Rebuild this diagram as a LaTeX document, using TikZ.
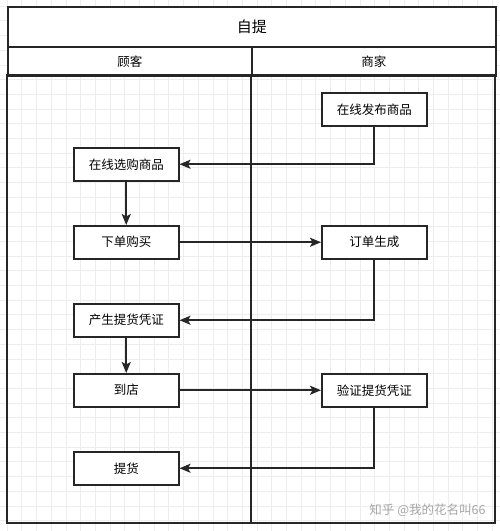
\documentclass[tikz,border=0pt]{standalone}
\usepackage{fontspec}
\setmainfont{Noto Sans CJK SC}
\usepackage{tikz}
\usetikzlibrary{arrows.meta, positioning}

\begin{document}
\begin{tikzpicture}[
  x=1pt, y=-1pt,
  font=\fontsize{12.5}{14}\selectfont,
  gridline/.style={
    draw=black!7,
    line width=0.6pt
  },
  lane/.style={
    draw=black!85,
    line width=1.8pt
  },
  stepbox/.style={
    draw=black!85,
    fill=white,
    line width=1.5pt,
    minimum width=105pt,
    minimum height=33pt,
    inner sep=0pt,
    anchor=north west
  },
  arrow/.style={
    draw=black!85,
    line width=1.8pt,
    -{Stealth[length=11pt, width=9pt, inset=2.5pt]}
  }
]

% Background grid
\useasboundingbox (0,0) rectangle (500,531);
\fill[white] (0,0) rectangle (500,531);
\foreach \gx in {0,...,34} {
  \draw[gridline] (7+14.7*\gx,0) -- (7+14.7*\gx,531);
}
\foreach \gy in {0,...,36} {
  \draw[gridline] (0,6+14.7*\gy) -- (500,6+14.7*\gy);
}

% Pool frame and lanes
\node[lane, fill=white, minimum width=488pt, minimum height=40pt, inner sep=0pt,
  anchor=north west, font=\fontsize{15}{17}\selectfont] (title) at (7,6) {自提};
\node[lane, fill=white, minimum width=244pt, minimum height=29pt, inner sep=0pt,
  anchor=north west] (kehu) at (7,46) {顾客};
\node[lane, fill=white, minimum width=244pt, minimum height=29pt, inner sep=0pt,
  anchor=north west] (shangjia) at (251,46) {商家};
\draw[lane] (7,75) rectangle (495,523);
\draw[lane] (251,75) -- (251,523);

% Merchant steps
\node[stepbox] (fabu) at (321,92) {在线发布商品};
\node[stepbox] (dingdan) at (321,225) {订单生成};
\node[stepbox] (yanzheng) at (321,373) {验证提货凭证};

% Customer steps
\node[stepbox] (xuangou) at (73,147) {在线选购商品};
\node[stepbox] (xiadan) at (73,225) {下单购买};
\node[stepbox] (pingzheng) at (73,303) {产生提货凭证};
\node[stepbox] (daodian) at (73,373) {到店};
\node[stepbox] (tihuo) at (73,451) {提货};

% Flow
\draw[arrow] (fabu.south) |- (xuangou.east);
\draw[arrow] (xuangou.south) -- (xiadan.north);
\draw[arrow] (xiadan.east) -- (dingdan.west);
\draw[arrow] (dingdan.south) |- (pingzheng.east);
\draw[arrow] (pingzheng.south) -- (daodian.north);
\draw[arrow] (daodian.east) -- (yanzheng.west);
\draw[arrow] (yanzheng.south) |- (tihuo.east);

% Watermark
\node[anchor=east, text=black!35, font=\fontsize{12.5}{14}\selectfont] (mark) at (489,510)
{知乎 @我的花名叫66};

\end{tikzpicture}
\end{document}
